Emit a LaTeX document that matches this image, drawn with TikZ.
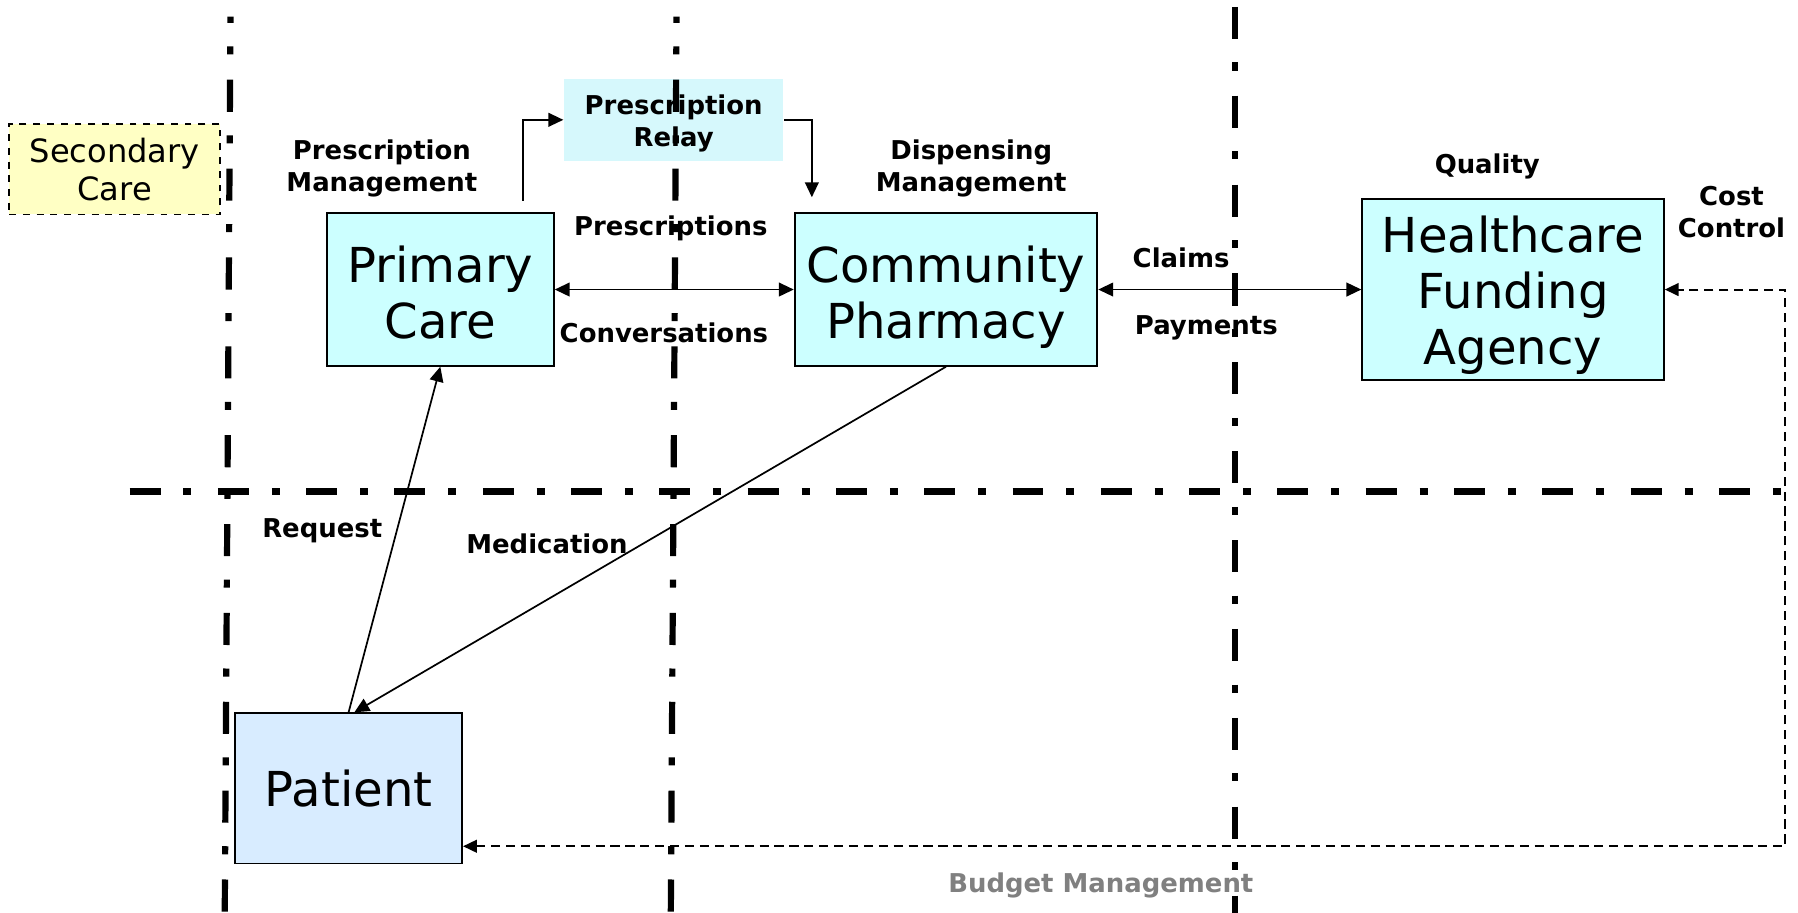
\documentclass[tikz,border=0pt]{standalone}
\usepackage{fontspec}
\setmainfont{DejaVu Sans}
\usetikzlibrary{positioning}
\usetikzlibrary{arrows.meta}

\definecolor{carefill}{HTML}{CCFFFF}
\definecolor{relayfill}{HTML}{D6F8FC}
\definecolor{secfill}{HTML}{FFFFC4}
\definecolor{patfill}{HTML}{D8ECFF}

\begin{document}
\begin{tikzpicture}[x=0.5pt, y=-0.5pt, line width = 0.75pt,
    box/.style = {draw, line width = 0.8pt, fill = carefill, align = center, inner sep = 0pt, font = \fontsize{21}{24.5}\selectfont},
    lbl/.style = {align = center, inner sep = 0pt, font = \fontsize{11.3}{14.2}\selectfont\bfseries},
    link/.style = {-{Triangle[length=6.5pt, width=6pt]}, line width = 0.75pt},
    divider/.style = {line width = 2.7pt, dash pattern = on 14pt off 10.25pt on 3.5pt off 11pt}]

    \useasboundingbox (0,0) rectangle (1568,796);

    % boxes
    \node (SC) at (100,147.5) [box, dashed, line width = 0.7pt, fill = secfill, minimum width = 92pt, minimum height = 39.5pt, font = \fontsize{14}{16.5}\selectfont] {Secondary\\Care};
    \node (PC) at (384,252.5) [box, minimum width = 99pt, minimum height = 66.5pt, text height = 47.5pt, text depth = 5pt] {Primary\\Care};
    \node (CP) at (825,252.5) [box, minimum width = 132pt, minimum height = 66.5pt, text height = 47.5pt, text depth = 5pt] {Community\\Pharmacy};
    \node (HF) at (1319.5,252.5) [box, minimum width = 131.5pt, minimum height = 79pt, text height = 70.5pt, text depth = 5pt] {Healthcare\\Funding\\Agency};
    \node (Pt) at (304,687.5) [box, fill = patfill, minimum width = 99pt, minimum height = 65.5pt] {Patient};
    \node (PR) at (587.5,104.5) [lbl, fill = relayfill, minimum width = 95.5pt, minimum height = 35.5pt, text height = 25.5pt, text depth = 2pt] {Prescription\\Relay};

    % labels
    \node (PM) at (333,147) [lbl] {Prescription\\Management};
    \node (DM) at (847,147) [lbl] {Dispensing\\Management};
    \node (Q)  at (1297,145) [lbl] {Quality};
    \node (CC) at (1510,185) [lbl] {Cost\\Control};
    \node (Ps) at (585,199) [lbl] {Prescriptions};
    \node (Cv) at (579,290) [lbl] {Conversations};
    \node (Cl) at (1030,225) [lbl] {Claims};
    \node (Pa) at (1052,286) [lbl] {Payments};
    \node (Rq) at (281,463) [lbl] {Request};
    \node (Md) at (477,474) [lbl] {Medication};
    \node (BM) at (960,772) [lbl, text = black!50] {Budget Management};

    % relay
    \coordinate (r1) at (456,175);
    \coordinate (r2) at (708,172);
    \draw[link] (r1) |- (PR.west);
    \draw[link] (PR.east) -| (r2);

    % flows
    \draw[link, {Triangle[length=6.5pt, width=6pt]}-{Triangle[length=6.5pt, width=6pt]}] (PC) -- (CP);
    \draw[link, {Triangle[length=6.5pt, width=6pt]}-{Triangle[length=6.5pt, width=6pt]}] (CP.east) -- (CP.east -| HF.west);
    \draw[link] (Pt.north) -- (PC.south);
    \draw[link] (CP.south) -- ([xshift = 2.5pt]Pt.north);

    \coordinate (b1) at (1557,738);
    \coordinate (b2) at (1557,252.5);
    \draw[link, line width = 0.9pt, {Triangle[length=6pt, width=5.5pt]}-{Triangle[length=6pt, width=5.5pt]}, dash pattern = on 4pt off 2.5pt] (Pt.east |- b1) -- (b1) -- (b2) -- (HF.east |- b2);

    % dividers
    \draw[divider, dash phase = 11.25pt] (201,14.5) -- (196,796);
    \draw[divider, dash phase = 11.25pt] (590,14.5) -- (585,796);
    \draw[divider] (1077,6) -- (1077,796);
    \draw[divider, line width = 3.1pt, dash pattern = on 13.5pt off 10pt on 3.5pt off 11.5pt] (113,428.5) -- (1557,428.5);

\end{tikzpicture}
\end{document}
